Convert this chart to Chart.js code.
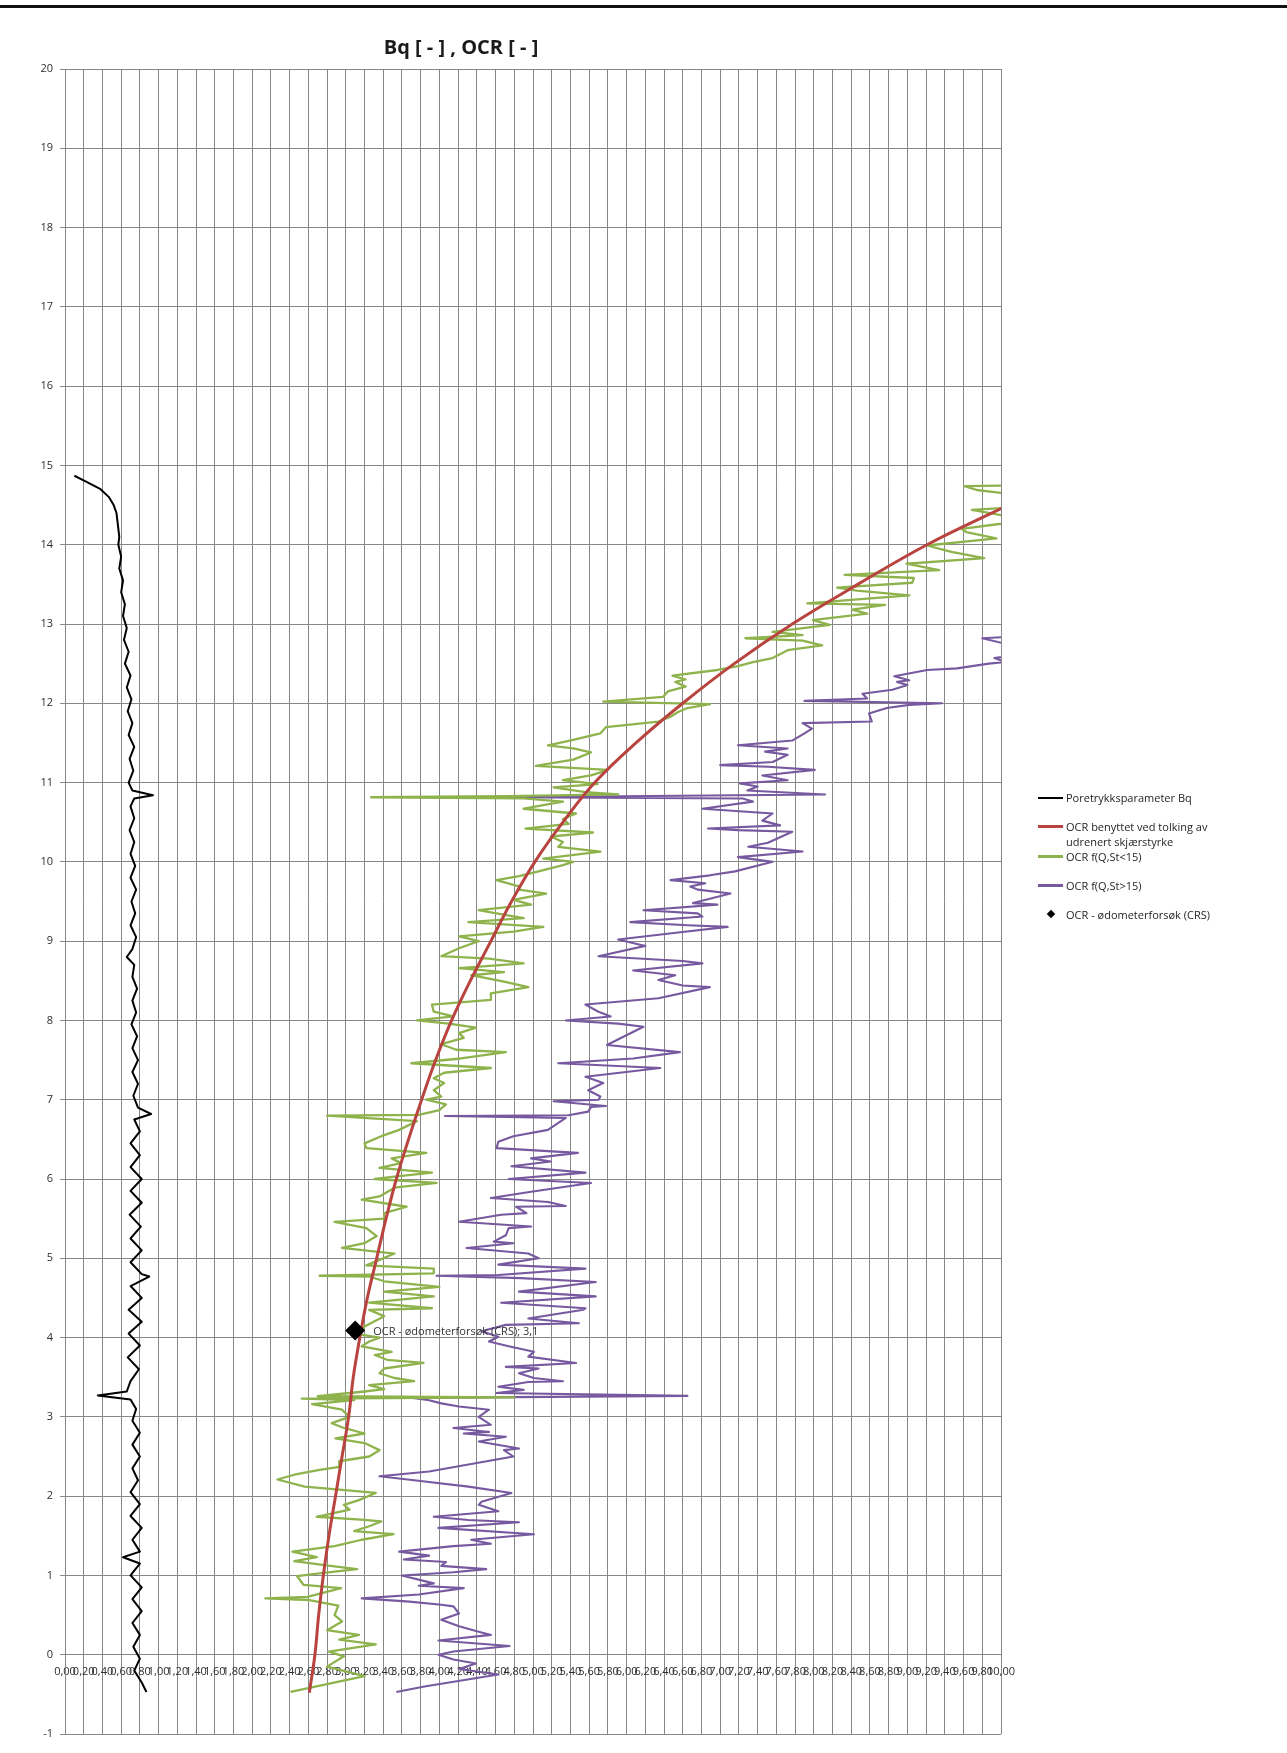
<!DOCTYPE html>
<html lang="no">
<head>
<meta charset="utf-8">
<title>Bq og OCR mot dybde</title>
<script src="https://cdn.jsdelivr.net/npm/chart.js@4.4.1/dist/chart.umd.min.js"></script>
<style>
  html, body { margin: 0; padding: 0; background: #fff; }
  #wrap { position: relative; width: 1287px; height: 1753px; overflow: hidden; background: #fff; }
  #rule { position: absolute; left: 0; top: 5px; width: 1287px; height: 3px; background: #111; }
  #chart { position: absolute; left: 0; top: 0; }
  #title { position: absolute; left: 461px; top: 34px; transform: translateX(-50%);
           font: bold 20px "Open Sans", sans-serif; line-height: 26px; color: #1a1a1a; white-space: nowrap; }
  #legend { position: absolute; left: 1038px; top: 790px; font: 11px "Open Sans", sans-serif; color: #1f1f1f; }
  .item { display: flex; align-items: flex-start; min-height: 29px; }
  .swatch { position: relative; width: 28px; height: 15px; flex: none; }
  .swatch .ln { position: absolute; left: 0; width: 25px; }
  .swatch .dm { position: absolute; left: 10px; top: 4px; width: 6px; height: 6px; transform: rotate(45deg); }
  .txt { line-height: 15px; width: 155px; }
</style>
</head>
<body>
<div id="wrap">
  <div id="rule"></div>
  <canvas id="chart" width="1287" height="1753"></canvas>
  <div id="title">Bq [ - ] , OCR [ - ]</div>
  <div id="legend"></div>
</div>
<script>
// Series names, in legend order
const seriesNames = [
  'Poretrykksparameter Bq',
  'OCR benyttet ved tolking av udrenert skjærstyrke',
  'OCR f(Q,St<15)',
  'OCR f(Q,St>15)',
  'OCR - ødometerforsøk (CRS)'
];

// Each profile: [value, depth] pairs
const bqProfile = [
  [0.10,14.87],[0.22,14.80],[0.38,14.70],[0.47,14.60],[0.52,14.50],[0.55,14.40],[0.56,14.30],[0.57,14.20],
  [0.58,14.10],[0.57,14.00],[0.60,13.85],[0.58,13.70],[0.62,13.55],[0.60,13.40],[0.64,13.25],[0.62,13.10],
  [0.66,12.95],[0.63,12.80],[0.68,12.65],[0.64,12.50],[0.70,12.35],[0.66,12.20],[0.71,12.05],[0.67,11.90],
  [0.72,11.75],[0.68,11.60],[0.74,11.45],[0.69,11.30],[0.73,11.15],[0.68,11.00],[0.72,10.90],[0.94,10.84],
  [0.74,10.80],[0.70,10.70],[0.74,10.55],[0.69,10.40],[0.74,10.25],[0.70,10.10],[0.75,9.95],[0.70,9.80],
  [0.76,9.65],[0.71,9.50],[0.75,9.35],[0.70,9.20],[0.76,9.05],[0.72,8.90],[0.66,8.80],[0.74,8.70],
  [0.72,8.55],[0.77,8.40],[0.72,8.25],[0.76,8.10],[0.71,7.95],[0.77,7.80],[0.72,7.65],[0.78,7.50],
  [0.72,7.35],[0.78,7.20],[0.73,7.05],[0.78,6.90],[0.92,6.82],[0.74,6.75],[0.80,6.60],[0.70,6.45],
  [0.80,6.30],[0.70,6.15],[0.82,6.00],[0.70,5.85],[0.82,5.70],[0.69,5.55],[0.81,5.40],[0.70,5.25],
  [0.82,5.10],[0.70,4.95],[0.82,4.80],[0.90,4.77],[0.70,4.65],[0.82,4.50],[0.68,4.35],[0.82,4.20],
  [0.68,4.05],[0.80,3.90],[0.67,3.75],[0.79,3.60],[0.70,3.45],[0.66,3.32],[0.35,3.27],[0.70,3.22],
  [0.76,3.10],[0.72,2.95],[0.80,2.80],[0.72,2.65],[0.80,2.50],[0.72,2.35],[0.78,2.20],[0.70,2.05],
  [0.80,1.90],[0.70,1.75],[0.82,1.60],[0.72,1.45],[0.80,1.30],[0.62,1.23],[0.80,1.15],[0.70,1.00],
  [0.82,0.85],[0.72,0.70],[0.82,0.55],[0.72,0.40],[0.80,0.25],[0.73,0.10],[0.80,-0.05],[0.74,-0.20],
  [0.82,-0.35],[0.87,-0.47]
];

const ocrUsedProfile = [
  [2.61,-0.48],[2.67,0],[2.71,0.5],[2.76,1],[2.82,1.5],[2.89,2],[2.96,2.5],[3.03,3],[3.08,3.5],
  [3.15,4],[3.23,4.5],[3.33,5],[3.43,5.5],[3.54,6],[3.67,6.5],[3.81,7],[3.96,7.5],[4.13,8],[4.33,8.5],
  [4.55,9],[4.77,9.5],[5.02,10],[5.32,10.5],[5.66,11],[6.10,11.5],[6.60,12],[7.15,12.5],[7.77,13],
  [8.47,13.5],[9.21,14],[10.08,14.5]
];

const ocrLowStProfile = [
  [2.41,-0.47],[3.20,-0.27],[2.80,-0.15],[2.98,-0.02],[2.82,0.04],[3.32,0.13],[2.93,0.19],[3.14,0.25],
  [2.80,0.31],[2.96,0.42],[2.88,0.50],[2.92,0.62],[2.61,0.69],[2.14,0.71],[2.59,0.73],[2.95,0.84],
  [2.55,0.88],[2.48,0.99],[2.74,1.03],[3.12,1.08],[2.77,1.13],[2.45,1.18],[2.69,1.23],[2.43,1.30],
  [2.88,1.37],[3.17,1.45],[3.51,1.52],[3.09,1.56],[3.25,1.62],[3.38,1.68],[3.20,1.70],[2.69,1.74],
  [3.04,1.83],[2.98,1.89],[3.14,1.95],[3.32,2.04],[2.96,2.08],[2.56,2.12],[2.27,2.21],[2.45,2.27],
  [2.72,2.33],[2.93,2.37],[2.93,2.44],[3.25,2.50],[3.36,2.58],[3.20,2.67],[2.89,2.73],[3.20,2.79],
  [2.98,2.86],[2.85,2.92],[3.04,3.00],[2.96,3.09],[2.64,3.16],[3.09,3.21],[2.53,3.23],[4.80,3.245],
  [2.70,3.26],[3.20,3.32],[3.41,3.35],[3.25,3.40],[3.73,3.45],[3.52,3.49],[3.36,3.55],[3.41,3.61],
  [3.83,3.68],[3.44,3.72],[3.31,3.78],[3.49,3.82],[3.17,3.89],[3.25,3.95],[3.36,4.00],[3.14,4.04],
  [3.20,4.14],[3.41,4.27],[3.25,4.35],[3.92,4.37],[3.25,4.44],[3.94,4.52],[3.41,4.58],[4.00,4.64],
  [3.41,4.71],[3.25,4.77],[2.72,4.78],[3.94,4.81],[3.94,4.87],[3.22,4.91],[3.36,4.98],[3.52,5.06],
  [2.96,5.13],[3.20,5.19],[3.33,5.28],[3.22,5.38],[2.88,5.46],[3.41,5.50],[3.41,5.57],[3.65,5.65],
  [3.17,5.74],[3.36,5.78],[3.52,5.89],[3.97,5.95],[3.31,6.00],[3.52,6.03],[3.92,6.08],[3.36,6.14],
  [3.59,6.20],[3.49,6.26],[3.86,6.33],[3.22,6.39],[3.20,6.45],[3.38,6.54],[3.57,6.62],[3.76,6.73],
  [2.80,6.80],[3.78,6.81],[4.00,6.87],[4.07,6.94],[3.86,7.00],[4.02,7.04],[3.94,7.12],[4.05,7.21],
  [3.94,7.27],[4.05,7.34],[4.55,7.40],[3.70,7.46],[4.23,7.52],[4.71,7.60],[4.18,7.63],[4.02,7.70],
  [4.26,7.78],[4.21,7.84],[4.39,7.91],[4.10,7.96],[3.76,8.00],[4.15,8.05],[3.94,8.11],[3.92,8.20],
  [4.55,8.26],[4.55,8.34],[4.95,8.42],[4.69,8.49],[4.34,8.57],[4.69,8.61],[4.21,8.66],[4.90,8.72],
  [4.53,8.78],[4.02,8.81],[4.21,8.91],[4.42,9.00],[4.21,9.06],[4.79,9.12],[5.11,9.18],[4.31,9.24],
  [4.90,9.29],[4.61,9.35],[4.42,9.39],[4.98,9.46],[4.79,9.52],[5.14,9.60],[4.85,9.65],[4.85,9.69],
  [4.61,9.77],[4.85,9.82],[5.06,9.88],[5.32,9.96],[5.43,10.00],[5.11,10.04],[5.72,10.13],[5.27,10.19],
  [5.32,10.25],[5.19,10.32],[5.64,10.37],[4.92,10.42],[5.38,10.48],[5.32,10.54],[5.46,10.61],[4.90,10.67],
  [5.32,10.76],[4.90,10.80],[3.27,10.815],[4.72,10.83],[5.91,10.85],[5.56,10.88],[5.22,10.94],[5.69,10.98],
  [5.32,11.03],[5.62,11.09],[5.80,11.16],[5.03,11.21],[5.43,11.29],[5.62,11.38],[5.43,11.43],[5.16,11.47],
  [5.43,11.54],[5.72,11.62],[5.78,11.70],[6.34,11.77],[6.47,11.83],[6.55,11.89],[6.65,11.94],[6.89,11.99],
  [5.75,12.02],[6.39,12.08],[6.44,12.15],[6.63,12.21],[6.52,12.27],[6.63,12.30],[6.49,12.35],[6.97,12.42],
  [7.19,12.47],[7.35,12.52],[7.56,12.57],[7.72,12.67],[8.09,12.73],[7.88,12.79],[7.27,12.82],[7.88,12.86],
  [7.56,12.90],[8.17,12.99],[7.99,13.05],[8.57,13.13],[8.41,13.18],[8.76,13.24],[7.93,13.26],[8.57,13.32],
  [9.02,13.36],[8.46,13.42],[8.25,13.46],[9.05,13.52],[9.07,13.58],[8.33,13.62],[9.34,13.68],[8.99,13.76],
  [9.82,13.83],[9.47,13.91],[9.21,13.99],[9.95,14.08],[9.63,14.16],[9.58,14.20],[10.30,14.31],[9.69,14.44],
  [10.25,14.48],[10.40,14.60],[9.74,14.69],[9.61,14.74],[10.30,14.75],[10.50,14.80]
];

const ocrHighStProfile = [
  [3.54,-0.47],[3.84,-0.40],[4.63,-0.25],[4.21,-0.18],[4.39,-0.11],[4.15,-0.06],[3.99,0.00],[4.15,0.04],
  [4.75,0.11],[3.99,0.18],[4.55,0.25],[4.42,0.29],[4.21,0.36],[4.02,0.44],[4.21,0.52],[4.15,0.61],
  [4.02,0.63],[3.68,0.67],[3.17,0.71],[3.78,0.76],[4.26,0.84],[3.78,0.87],[3.94,0.90],[3.60,1.00],
  [4.15,1.04],[4.50,1.08],[4.02,1.12],[4.07,1.17],[3.62,1.20],[3.89,1.25],[3.57,1.30],[4.15,1.37],
  [4.55,1.40],[4.34,1.45],[5.01,1.52],[3.99,1.60],[4.85,1.67],[4.31,1.70],[3.94,1.74],[4.63,1.81],
  [4.42,1.89],[4.45,1.93],[4.77,2.04],[4.31,2.12],[3.73,2.20],[3.36,2.25],[3.89,2.31],[4.31,2.40],
  [4.79,2.50],[4.69,2.58],[4.85,2.60],[4.42,2.69],[4.71,2.75],[4.26,2.79],[4.53,2.81],[4.15,2.86],
  [4.55,2.90],[4.42,3.00],[4.53,3.09],[4.21,3.13],[4.02,3.17],[3.89,3.21],[3.70,3.24],[6.65,3.265],
  [4.61,3.30],[4.90,3.34],[4.63,3.38],[4.95,3.44],[5.32,3.45],[5.01,3.49],[4.85,3.55],[5.06,3.61],
  [4.71,3.63],[5.46,3.68],[4.95,3.76],[5.01,3.82],[4.74,3.89],[4.53,3.95],[4.63,4.01],[4.45,4.08],
  [4.71,4.16],[5.49,4.18],[4.95,4.24],[5.54,4.35],[5.56,4.37],[4.66,4.44],[5.67,4.52],[4.85,4.58],
  [5.67,4.70],[4.87,4.75],[3.97,4.78],[4.63,4.79],[5.56,4.87],[4.63,4.92],[5.06,5.00],[4.95,5.06],
  [4.29,5.13],[4.79,5.19],[4.58,5.21],[4.71,5.29],[4.74,5.38],[4.98,5.40],[4.21,5.46],[4.66,5.55],
  [4.93,5.57],[4.82,5.65],[5.35,5.66],[5.16,5.71],[4.55,5.76],[4.98,5.84],[5.62,5.95],[4.74,6.00],
  [5.56,6.08],[4.77,6.16],[5.19,6.22],[4.98,6.26],[5.48,6.33],[4.61,6.39],[4.63,6.47],[4.79,6.54],
  [5.16,6.62],[5.35,6.77],[4.06,6.795],[5.38,6.805],[5.59,6.85],[5.62,6.91],[5.78,6.92],[5.22,6.98],
  [5.70,7.00],[5.72,7.04],[5.59,7.12],[5.75,7.21],[5.56,7.29],[6.36,7.40],[5.27,7.46],[6.07,7.52],
  [6.57,7.60],[5.79,7.69],[6.18,7.92],[5.91,7.96],[5.35,8.00],[5.83,8.05],[5.70,8.11],[5.56,8.20],
  [6.34,8.28],[6.89,8.42],[6.60,8.44],[6.34,8.51],[6.52,8.57],[6.07,8.63],[6.81,8.72],[6.60,8.75],
  [5.70,8.81],[6.20,8.94],[5.91,9.02],[6.55,9.11],[7.08,9.18],[6.65,9.20],[6.04,9.24],[6.81,9.31],
  [6.76,9.35],[6.18,9.39],[6.97,9.46],[6.71,9.48],[7.11,9.60],[6.76,9.65],[6.68,9.69],[6.84,9.73],
  [6.47,9.77],[6.89,9.83],[7.16,9.88],[7.56,10.00],[7.19,10.06],[7.88,10.13],[7.30,10.19],[7.51,10.24],
  [7.77,10.38],[7.19,10.40],[6.87,10.42],[7.64,10.46],[7.45,10.52],[7.56,10.61],[6.81,10.67],[7.35,10.76],
  [7.24,10.80],[4.69,10.815],[8.12,10.85],[7.29,10.90],[7.40,10.95],[7.21,10.99],[7.72,11.03],[7.45,11.09],
  [8.01,11.16],[7.51,11.20],[7.00,11.22],[7.56,11.26],[7.72,11.35],[7.48,11.39],[7.72,11.43],[7.19,11.47],
  [7.77,11.53],[7.90,11.62],[7.98,11.68],[7.88,11.75],[8.62,11.77],[8.59,11.87],[8.78,11.94],[9.02,11.98],
  [9.37,12.00],[7.90,12.03],[8.57,12.06],[8.52,12.12],[8.84,12.17],[9.00,12.23],[8.89,12.27],[9.02,12.29],
  [8.86,12.34],[9.21,12.42],[9.53,12.44],[9.87,12.50],[10.05,12.52],[9.93,12.57],[10.40,12.65],[9.80,12.82],
  [10.40,12.86],[10.60,13.00]
];

const crsProfile = [[3.1, 4.09]];

const seriesColors = ['#000000', '#b8433f', '#8fb34c', '#77599f', '#000000'];

// Axis ranges and tick steps
const xRange = [0, 10];
const xStep = 0.2;
const yRange = [-1, 20];
const yStep = 1;

const toPoints = (profile) => profile.map(([x, y]) => ({ x, y }));
const decimalComma = (v, digits) => (digits === undefined ? String(v) : v.toFixed(digits)).replace('.', ',');

// Writes "name; value" beside each CRS marker
const crsLabelPlugin = {
  id: 'crsLabel',
  afterDatasetsDraw(chart) {
    const idx = chart.data.datasets.findIndex(d => d.crsLabel);
    if (idx < 0) return;
    const ds = chart.data.datasets[idx];
    const meta = chart.getDatasetMeta(idx);
    const c = chart.ctx;
    c.save();
    c.font = '11px "Open Sans", sans-serif';
    c.fillStyle = '#333333';
    c.textAlign = 'left';
    c.textBaseline = 'middle';
    meta.data.forEach((el, i) => {
      const v = ds.data[i].x;
      c.fillText(ds.label + '; ' + decimalComma(v), el.x + 18, el.y + 1);
    });
    c.restore();
  }
};

Chart.defaults.font.family = '"Open Sans", sans-serif';
Chart.defaults.font.size = 11;
Chart.defaults.color = '#2e2e2e';

const lineDataset = (i, profile, width, extra) => Object.assign({
  label: seriesNames[i],
  data: toPoints(profile),
  showLine: true,
  borderColor: seriesColors[i],
  backgroundColor: seriesColors[i],
  borderWidth: width,
  borderJoinStyle: 'round',
  pointRadius: 0,
  pointHoverRadius: 0
}, extra || {});

const gridColor = '#878787';

const chart = new Chart(document.getElementById('chart'), {
  type: 'scatter',
  data: {
    datasets: [
      Object.assign(lineDataset(4, crsProfile, 0, { showLine: false, pointStyle: 'rectRot', pointRadius: 10, crsLabel: true }), { order: -1 }),
      lineDataset(0, bqProfile, 2),
      lineDataset(1, ocrUsedProfile, 3, { tension: 0.4 }),
      lineDataset(2, ocrLowStProfile, 2.3),
      lineDataset(3, ocrHighStProfile, 2.1)
    ]
  },
  options: {
    responsive: false,
    animation: false,
    devicePixelRatio: 1,
    layout: { padding: { left: 0, top: 69, right: 286, bottom: 19 } },
    plugins: {
      legend: { display: false },
      title: { display: false },
      tooltip: { enabled: false }
    },
    scales: {
      x: {
        type: 'linear',
        position: { y: 0 },
        min: xRange[0], max: xRange[1],
        ticks: {
          stepSize: xStep, maxTicksLimit: 60, autoSkip: false,
          maxRotation: 0, minRotation: 0, padding: 3,
          callback: v => decimalComma(v, 2)
        },
        grid: { color: gridColor, lineWidth: 1, tickLength: 8 },
        border: { color: gridColor }
      },
      y: {
        type: 'linear',
        min: yRange[0], max: yRange[1],
        ticks: { stepSize: yStep, maxTicksLimit: 30, padding: 7 },
        grid: { color: gridColor, lineWidth: 1, tickLength: 5 },
        border: { color: gridColor },
        afterFit: s => { s.width = 65; }
      }
    }
  },
  plugins: [crsLabelPlugin]
});

// Legend built from the chart's datasets, in series order
(function buildLegend() {
  const box = document.getElementById('legend');
  const byName = {};
  chart.data.datasets.forEach(d => { byName[d.label] = d; });
  seriesNames.forEach(name => {
    const d = byName[name];
    const item = document.createElement('div');
    item.className = 'item';
    const sw = document.createElement('div');
    sw.className = 'swatch';
    const mark = document.createElement('div');
    if (d.showLine === false) {
      mark.className = 'dm';
      mark.style.background = d.backgroundColor;
    } else {
      mark.className = 'ln';
      const w = Math.max(1.5, d.borderWidth);
      mark.style.height = w + 'px';
      mark.style.top = (7.5 - w / 2) + 'px';
      mark.style.background = d.borderColor;
    }
    sw.appendChild(mark);
    const t = document.createElement('div');
    t.className = 'txt';
    t.textContent = name;
    item.appendChild(sw);
    item.appendChild(t);
    box.appendChild(item);
  });
})();
</script>
</body>
</html>
